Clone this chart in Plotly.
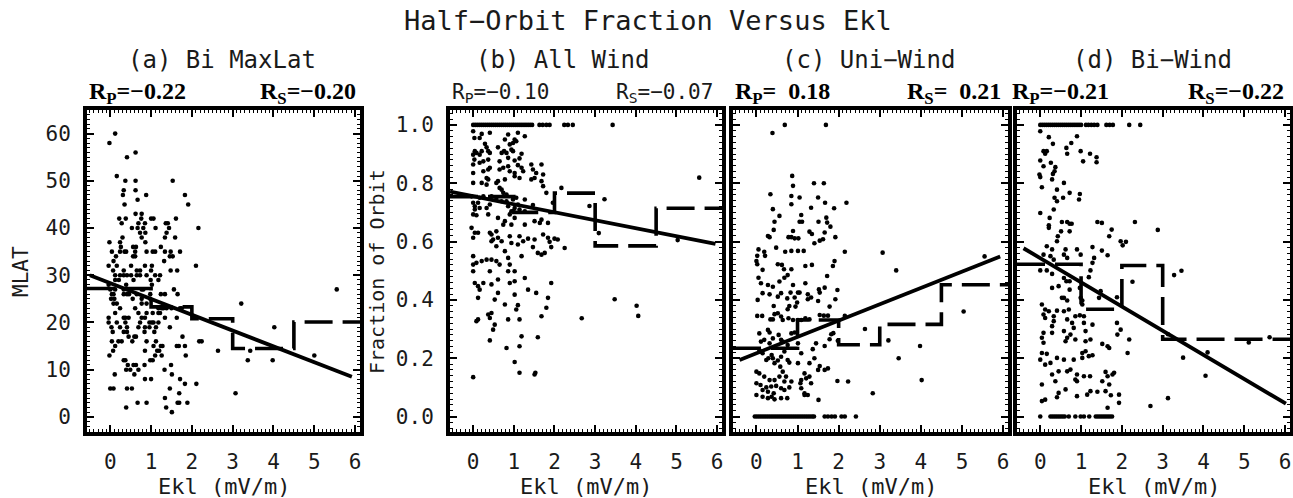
import plotly.graph_objects as go

# ---------------- data ----------------
X_TICKS = [0, 1, 2, 3, 4, 5, 6]
X_RANGE = [-0.57, 6.12]
BIN_EDGES = [-0.57, 1.0, 2.0, 3.0, 4.5, 6.12]

A_BIN_MEANS = [27.2, 23.3, 20.8, 14.5, 20.1]
B_BIN_MEANS = [0.754, 0.700, 0.766, 0.585, 0.714]
C_BIN_MEANS = [0.234, 0.331, 0.246, 0.316, 0.452]
D_BIN_MEANS = [0.522, 0.368, 0.518, 0.265, 0.265]

A_FIT_X, A_FIT_Y = [-0.50, 5.92], [30.0, 8.5]
B_FIT_X, B_FIT_Y = [-0.57, 5.96], [0.771, 0.592]
C_FIT_X, C_FIT_Y = [-0.41, 5.93], [0.194, 0.549]
D_FIT_X, D_FIT_Y = [-0.41, 6.02], [0.577, 0.044]

TITLES = ["(a) Bi MaxLat", "(b) All Wind", "(c) Uni\u2212Wind", "(d) Bi\u2212Wind"]
RP_TEXT = ["\u22120.22", "\u22120.10", "\u00a0\u00a00.18", "\u22120.21"]
RS_TEXT = ["\u22120.20", "\u22120.07", "\u00a0\u00a00.21", "\u22120.22"]

# panel (a): MLAT rows -> Ekl values
A_ROWS = [
    (60, [0.12]), (58, [-0.02]), (56, [0.62]), (55, [0.41]), (51, [0.16]),
    (50, [0.37, 0.62, 1.53]), (48, [0.33, 0.62]), (47, [0.31, 0.88, 1.83]),
    (46, [0.67]), (45, [0.35, 1.91]), (43, [0.62, 0.77]),
    (42, [0.22, 0.38, 0.76, 1.0, 1.06, 1.61]),
    (41, [0.28, 0.69, 0.85, 1.36, 1.41]),
    (40, [0.53, 0.67, 0.81, 1.11, 1.44, 2.16]),
    (39, [0.73, 0.86, 1.38]), (38, [0.30, 0.77, 1.34, 1.59]),
    (37, [-0.02, 0.24, 0.86]), (36, [0.26, 0.56, 0.63, 1.24]),
    (35, [0.04, 0.24, 0.35, 0.39, 0.61, 0.89, 1.04, 1.10, 1.34, 1.48, 1.71]),
    (34, [0.14, 0.56, 0.61, 1.46, 1.53]), (33, [0.08, 1.32]),
    (32, [-0.04, 0.16, 0.51, 0.85, 1.02, 2.10]),
    (31, [0.07, 0.33, 0.65, 0.73, 1.0, 1.48, 1.64]),
    (30, [0.12, 0.24, 0.33, 0.41, 0.51, 0.65, 0.73, 0.89, 1.10, 1.22]),
    (29, [0.12, 0.21, 0.57, 0.99, 1.18]), (28, [-0.04, 0.39, 1.02]),
    (27, [0.0, 0.12, 0.33, 0.77, 0.81, 1.56, 5.55]),
    (26, [0.04, 0.08, 0.33, 0.41, 0.46, 0.65, 0.98, 1.24, 1.34, 1.65]),
    (25, [0.02, 0.10, 0.55, 0.77, 0.98]),
    (24, [0.08, 0.16, 0.77, 0.89, 3.21]),
    (23, [0.24, 0.61, 1.18, 1.26, 1.30, 1.38, 1.50, 1.71, 1.75]),
    (22, [0.12, 0.69, 0.89, 1.04, 1.18, 1.22]),
    (21, [-0.04, 0.33, 0.37, 0.45, 0.77, 0.85, 1.34, 1.63]),
    (20, [-0.04, 0.16, 0.37, 0.73, 0.96, 1.02, 1.06, 1.18]),
    (19, [0.03, 0.24, 0.41, 0.69, 0.85, 0.96, 1.12, 1.46, 4.02]),
    (18, [0.06, 0.33, 0.41, 0.84, 1.08]),
    (17, [0.45, 0.59, 0.63, 1.77]),
    (16, [0.04, 0.20, 0.28, 0.54, 0.89, 1.12, 2.18, 2.24]),
    (15, [0.12, 1.06, 1.24, 1.28, 1.63, 1.68, 1.83]),
    (14, [0.07, 0.85, 1.15, 1.20, 2.64, 3.43]),
    (13, [-0.02, 1.10, 1.26, 1.85, 5.0]),
    (12, [0.33, 0.37, 0.98, 1.04, 3.37, 3.98]),
    (11, [0.43, 0.57, 0.63, 0.84, 1.49]),
    (10, [0.39, 0.49, 0.69, 1.33]), (9, [0.11, 0.59, 1.51]),
    (8, [0.85, 1.0, 1.71]), (7, [1.83, 2.11]),
    (6, [0.0, 0.08, 0.41, 0.53, 1.46]), (5, [1.69, 3.07]), (4, [1.34]),
    (3, [0.67, 0.89, 1.65, 1.69, 1.89]), (2, [0.39, 1.37]), (1, [1.51]),
]

# panel (b): (Ekl, fraction)
B_TOP_ROW_X = [0.0, 0.05, 0.10, 0.15, 0.20, 0.25, 0.30, 0.35, 0.40, 0.45, 0.50,
               0.55, 0.60, 0.65, 0.70, 0.75, 0.80, 0.85, 0.90, 0.95, 1.00, 1.05,
               1.10, 1.15, 1.20, 1.25, 1.30, 1.35, 1.40, 1.45, 1.63, 1.71, 1.80,
               1.88, 2.24, 2.33, 2.45, 3.43]
B_PTS = [
    (0.0, 0.978), (0.21, 0.969), (0.41, 0.973), (0.86, 0.967), (1.10, 0.973),
    (0.03, 0.955), (0.16, 0.955), (0.78, 0.950), (1.02, 0.950), (1.27, 0.961),
    (0.29, 0.935), (0.33, 0.923), (0.61, 0.923), (0.76, 0.910), (0.90, 0.933),
    (0.98, 0.938), (1.06, 0.944), (0.94, 0.915), (0.04, 0.910), (0.21, 0.910),
    (0.37, 0.910), (0.0, 0.898), (0.08, 0.904), (0.16, 0.898), (0.41, 0.904),
    (0.70, 0.904), (0.82, 0.904), (0.98, 0.910), (1.19, 0.901), (0.03, 0.881),
    (0.25, 0.875), (0.37, 0.881), (0.65, 0.875), (1.02, 0.878), (1.14, 0.885),
    (0.86, 0.887), (0.0, 0.864), (0.16, 0.870), (0.41, 0.853), (0.74, 0.853),
    (0.86, 0.858), (1.10, 0.862), (1.19, 0.853), (1.43, 0.864), (1.68, 0.864),
    (0.0, 0.835), (0.25, 0.841), (0.37, 0.847), (0.65, 0.847), (0.90, 0.841),
    (1.02, 0.835), (1.23, 0.841), (1.47, 0.847), (1.55, 0.835), (1.72, 0.830),
    (0.33, 0.818), (0.37, 0.813), (0.61, 0.807), (1.02, 0.824), (1.14, 0.818),
    (1.68, 0.807), (1.72, 0.790), (0.0, 0.801), (0.21, 0.801), (0.57, 0.801),
    (0.78, 0.813), (1.43, 0.813), (1.51, 0.818), (0.33, 0.795), (0.65, 0.784),
    (1.80, 0.767), (0.70, 0.778), (2.17, 0.784), (0.45, 0.755), (0.74, 0.767),
    (0.82, 0.761), (-0.04, 0.755), (0.16, 0.750), (0.25, 0.755), (0.57, 0.750),
    (0.98, 0.744), (1.06, 0.750), (1.10, 0.727), (0.70, 0.738), (0.82, 0.738),
    (1.27, 0.744), (1.47, 0.725), (1.96, 0.733), (0.0, 0.733), (0.12, 0.733),
    (0.04, 0.721), (0.16, 0.715), (0.33, 0.715), (0.41, 0.727), (0.04, 0.710),
    (0.86, 0.721), (1.02, 0.715), (0.94, 0.704), (1.14, 0.710), (1.27, 0.704),
    (0.0, 0.693), (0.08, 0.690), (0.37, 0.693), (0.61, 0.681), (0.78, 0.670),
    (0.90, 0.693), (1.02, 0.681), (1.68, 0.675), (1.51, 0.670), (1.64, 0.664),
    (1.84, 0.664), (1.27, 0.658), (0.74, 0.658), (0.94, 0.658), (-0.04, 0.647),
    (0.04, 0.630), (0.12, 0.630), (0.41, 0.630), (0.45, 0.624), (0.57, 0.635),
    (0.61, 0.613), (0.90, 0.618), (1.14, 0.618), (0.0, 0.613), (2.00, 0.610),
    (0.49, 0.607), (0.45, 0.601), (0.70, 0.601), (0.94, 0.595), (1.10, 0.590),
    (1.23, 0.601), (1.35, 0.610), (1.51, 0.607), (1.72, 0.624), (1.84, 0.613),
    (1.88, 0.599), (2.08, 0.607), (0.57, 0.584), (0.78, 0.567), (1.47, 0.581),
    (1.59, 0.561), (1.68, 0.555), (1.76, 0.561), (1.92, 0.581), (2.25, 0.578),
    (0.0, 0.550), (0.08, 0.527), (0.21, 0.533), (0.33, 0.538), (0.45, 0.538),
    (0.57, 0.533), (0.65, 0.521), (0.0, 0.521), (0.0, 0.498), (0.41, 0.498),
    (0.86, 0.544), (0.90, 0.521), (0.86, 0.498), (1.02, 0.498), (1.19, 0.550),
    (0.04, 0.458), (0.12, 0.447), (0.16, 0.435), (0.25, 0.458), (0.45, 0.453),
    (0.61, 0.470), (0.90, 0.458), (1.02, 0.464), (1.27, 0.475), (1.92, 0.458),
    (0.12, 0.407), (0.53, 0.401), (0.61, 0.424), (1.02, 0.418), (1.35, 0.435),
    (1.55, 0.424), (1.84, 0.407), (0.78, 0.384), (1.10, 0.382), (1.06, 0.367),
    (1.80, 0.373), (1.68, 0.344), (0.12, 0.333), (0.08, 0.327), (0.37, 0.350),
    (0.45, 0.355), (0.41, 0.338), (0.53, 0.315), (0.86, 0.333), (1.14, 0.333),
    (0.49, 0.298), (0.41, 0.261), (1.19, 0.275), (1.59, 0.272), (0.82, 0.235),
    (1.14, 0.241), (1.02, 0.187), (1.51, 0.144), (1.14, 0.150), (1.53, 0.150),
    (0.0, 0.135), (2.86, 0.722), (3.23, 0.745), (3.09, 0.629), (2.67, 0.337),
    (3.48, 0.402), (4.02, 0.380), (4.06, 0.345), (5.03, 0.605), (5.56, 0.819),
]

# panel (c)
C_ZERO_ROW_X = [-0.04, 0.01, 0.06, 0.11, 0.16, 0.21, 0.26, 0.31, 0.36, 0.41,
                0.46, 0.51, 0.56, 0.61, 0.66, 0.71, 0.76, 0.81, 0.86, 0.91,
                0.96, 1.01, 1.06, 1.11, 1.16, 1.21, 1.26, 1.31, 1.36, 1.40,
                1.66, 1.74, 1.83, 1.91, 2.07, 2.15, 2.42]
C_PTS = [
    (0.69, 1.0), (1.69, 1.0), (0.39, 0.972),
    (0.87, 0.825), (0.89, 0.791), (1.40, 0.800), (1.64, 0.800), (0.34, 0.762),
    (0.85, 0.756), (1.05, 0.751), (1.50, 0.751), (2.19, 0.733), (1.67, 0.733),
    (0.40, 0.711), (0.85, 0.728), (1.33, 0.716), (1.89, 0.714), (0.56, 0.688),
    (0.44, 0.668), (1.09, 0.691), (1.05, 0.668), (1.11, 0.668), (1.51, 0.668),
    (1.70, 0.682), (1.72, 0.665), (1.80, 0.651), (0.42, 0.640), (0.89, 0.636),
    (0.85, 0.615), (1.29, 0.634), (1.35, 0.626), (1.02, 0.611), (0.93, 0.611),
    (0.78, 0.615), (0.28, 0.619), (0.32, 0.615), (1.66, 0.631), (1.54, 0.603),
    (1.62, 0.608), (1.92, 0.615), (1.41, 0.594), (0.05, 0.573), (0.19, 0.565),
    (0.48, 0.579), (0.70, 0.565), (0.85, 0.568), (1.01, 0.568), (1.15, 0.568),
    (2.15, 0.565), (0.02, 0.551), (0.21, 0.551), (0.0, 0.533), (1.90, 0.533),
    (0.02, 0.522), (0.52, 0.522), (0.62, 0.520), (0.15, 0.503), (0.67, 0.505),
    (0.85, 0.505), (1.19, 0.516), (1.35, 0.520), (1.86, 0.516), (0.76, 0.485),
    (1.72, 0.482), (0.05, 0.476), (0.56, 0.463), (0.11, 0.457), (0.28, 0.451),
    (0.68, 0.476), (0.40, 0.445), (0.89, 0.451), (1.01, 0.425), (1.19, 0.457),
    (1.52, 0.436), (1.66, 0.442), (1.97, 0.434), (0.15, 0.423), (0.32, 0.419),
    (0.60, 0.423), (0.83, 0.425), (1.05, 0.425), (1.25, 0.419), (1.33, 0.408),
    (1.54, 0.425), (0.03, 0.400), (0.52, 0.411), (0.75, 0.405), (0.93, 0.408),
    (1.25, 0.402), (1.50, 0.396), (1.92, 0.402), (0.42, 0.379), (0.80, 0.379),
    (0.99, 0.391), (0.95, 0.377), (0.76, 0.368), (1.78, 0.377), (0.52, 0.354),
    (0.44, 0.351), (0.60, 0.343), (0.02, 0.345), (0.14, 0.345), (0.34, 0.333),
    (0.40, 0.333), (0.64, 0.331), (0.78, 0.337), (0.89, 0.331), (1.01, 0.331),
    (1.09, 0.331), (1.19, 0.337), (1.29, 0.333), (1.54, 0.348), (1.64, 0.346),
    (1.74, 0.346), (2.15, 0.345), (0.07, 0.285), (0.28, 0.297), (0.32, 0.288),
    (0.54, 0.280), (0.85, 0.285), (0.93, 0.288), (1.45, 0.251), (1.66, 0.242),
    (1.82, 0.282), (0.11, 0.257), (0.19, 0.263), (0.40, 0.268), (0.32, 0.251),
    (0.60, 0.263), (0.64, 0.257), (0.76, 0.245), (0.07, 0.228), (0.11, 0.223),
    (0.15, 0.217), (0.37, 0.211), (0.68, 0.223), (1.01, 0.251), (1.09, 0.217),
    (1.37, 0.231), (1.78, 0.265), (1.98, 0.260), (0.24, 0.194), (0.29, 0.200),
    (0.40, 0.200), (0.52, 0.192), (0.60, 0.205), (0.76, 0.194), (1.01, 0.183),
    (1.29, 0.183), (1.41, 0.200), (1.54, 0.173), (1.66, 0.160), (1.74, 0.165),
    (0.44, 0.183), (0.58, 0.171), (0.64, 0.154), (0.80, 0.185), (1.50, 0.160),
    (0.0, 0.154), (0.07, 0.148), (0.19, 0.137), (0.32, 0.125), (0.44, 0.125),
    (0.56, 0.137), (0.68, 0.120), (0.72, 0.137), (0.85, 0.120), (1.07, 0.114),
    (1.09, 0.125), (1.21, 0.131), (1.29, 0.137), (1.17, 0.148), (1.33, 0.114),
    (1.97, 0.122), (2.23, 0.120), (0.0, 0.114), (0.10, 0.108), (0.24, 0.100),
    (0.36, 0.103), (0.48, 0.105), (0.60, 0.097), (0.15, 0.091), (0.28, 0.085),
    (0.42, 0.080), (0.68, 0.091), (0.80, 0.100), (1.09, 0.097), (1.17, 0.080),
    (0.0, 0.074), (0.15, 0.068), (0.28, 0.063), (0.37, 0.068), (0.44, 0.059),
    (0.60, 0.063), (0.75, 0.063), (1.17, 0.074), (1.25, 0.074), (1.51, 0.057),
    (3.07, 0.562), (3.40, 0.501), (2.64, 0.300), (3.21, 0.261), (3.46, 0.200),
    (3.98, 0.242), (4.02, 0.125), (2.83, 0.080), (5.04, 0.360), (5.55, 0.549),
    (1.87, 0.286),
]

# panel (d)
D_TOP_ROW_X = [0.0, 0.05, 0.10, 0.15, 0.20, 0.25, 0.30, 0.35, 0.40, 0.45, 0.50,
               0.55, 0.60, 0.65, 0.70, 0.75, 0.80, 0.85, 0.90, 0.95, 1.00, 1.12,
               1.18, 1.25, 1.32, 1.40, 1.62, 1.70, 1.78, 2.18, 2.45]
D_ZERO_ROW_X = [0.0, 0.25, 0.30, 0.35, 0.40, 0.45, 0.50, 0.55, 0.60, 0.70, 0.86,
                0.99, 1.07, 1.20, 1.36, 1.41, 1.46, 1.51, 1.56, 1.61, 1.66, 1.71,
                1.76]
D_PTS = [
    (0.0, 0.978), (0.21, 0.958), (0.31, 0.935), (0.90, 0.961), (0.76, 0.938),
    (0.64, 0.921), (0.08, 0.910), (0.16, 0.910), (0.12, 0.901), (0.66, 0.901),
    (0.99, 0.910), (1.22, 0.901), (1.05, 0.875), (1.38, 0.889), (1.38, 0.872),
    (0.0, 0.878), (0.08, 0.858), (0.26, 0.870), (0.37, 0.855), (0.31, 0.832),
    (0.35, 0.841), (-0.02, 0.830), (0.0, 0.821), (0.29, 0.813), (0.58, 0.801),
    (0.41, 0.778), (0.72, 0.767), (0.97, 0.763), (0.04, 0.786), (0.35, 0.750),
    (0.41, 0.738), (0.56, 0.750), (0.95, 0.744), (0.33, 0.710), (0.0, 0.698),
    (0.23, 0.681), (0.53, 0.667), (0.66, 0.667), (0.72, 0.661), (0.77, 0.661),
    (1.40, 0.667), (1.51, 0.664), (2.32, 0.667), (0.21, 0.656), (0.21, 0.647),
    (0.51, 0.635), (0.43, 0.618), (0.72, 0.635), (1.75, 0.641), (1.69, 0.618),
    (1.97, 0.601), (2.10, 0.599), (2.02, 0.587), (0.41, 0.601), (0.16, 0.584),
    (0.29, 0.573), (0.62, 0.573), (0.90, 0.573), (1.28, 0.581), (1.51, 0.569),
    (1.65, 0.553), (0.08, 0.555), (0.25, 0.550), (0.33, 0.538), (0.58, 0.555),
    (0.66, 0.544), (0.99, 0.555), (1.32, 0.544), (1.28, 0.527), (0.0, 0.501),
    (0.16, 0.501), (0.29, 0.489), (0.58, 0.475), (0.64, 0.464), (0.72, 0.464),
    (1.23, 0.501), (1.19, 0.478), (0.29, 0.441), (0.45, 0.447), (0.72, 0.435),
    (0.97, 0.441), (1.48, 0.430), (2.26, 0.462), (0.53, 0.407), (0.58, 0.407),
    (0.66, 0.398), (0.99, 0.407), (1.03, 0.398), (1.44, 0.407), (1.03, 0.384),
    (1.88, 0.409), (0.04, 0.384), (0.12, 0.367), (0.08, 0.350), (0.21, 0.361),
    (0.12, 0.338), (0.41, 0.363), (0.33, 0.344), (0.58, 0.361), (0.70, 0.367),
    (0.86, 0.344), (0.97, 0.347), (1.07, 0.344), (0.33, 0.327), (0.29, 0.310),
    (0.66, 0.333), (0.78, 0.321), (0.82, 0.304), (1.07, 0.321), (1.28, 0.315),
    (0.08, 0.287), (0.04, 0.270), (0.08, 0.253), (0.29, 0.287), (0.58, 0.293),
    (0.62, 0.258), (0.66, 0.270), (0.74, 0.281), (0.86, 0.264), (1.11, 0.293),
    (1.11, 0.258), (1.23, 0.264), (1.52, 0.249), (1.65, 0.241), (1.69, 0.235),
    (1.88, 0.321), (1.97, 0.298), (1.89, 0.281), (2.18, 0.264), (2.14, 0.218),
    (0.04, 0.218), (0.16, 0.215), (0.0, 0.195), (0.12, 0.178), (0.25, 0.184),
    (0.41, 0.201), (0.58, 0.195), (0.82, 0.195), (1.03, 0.218), (1.03, 0.201),
    (1.11, 0.224), (1.19, 0.207), (1.28, 0.210), (0.29, 0.144), (0.45, 0.155),
    (0.66, 0.155), (0.74, 0.161), (0.90, 0.144), (0.86, 0.127), (1.07, 0.138),
    (1.22, 0.138), (1.60, 0.153), (1.65, 0.138), (1.77, 0.144), (1.81, 0.150),
    (0.04, 0.110), (0.37, 0.121), (0.90, 0.121), (1.52, 0.121), (1.69, 0.110),
    (0.62, 0.093), (1.23, 0.087), (1.40, 0.085), (1.60, 0.087), (1.73, 0.073),
    (1.15, 0.075), (0.04, 0.053), (0.12, 0.058), (0.45, 0.081), (0.41, 0.066),
    (0.90, 0.070), (1.93, 0.075), (1.93, 0.047), (1.65, 0.030),
    (2.88, 0.640), (3.28, 0.485), (3.46, 0.500), (3.13, 0.282), (3.50, 0.202),
    (4.10, 0.220), (4.05, 0.140), (3.13, 0.063), (2.70, 0.036), (5.11, 0.254),
    (5.62, 0.272),
]

# ---------------- assemble ----------------
a_x = [x for y, xs in A_ROWS for x in xs]
a_y = [y for y, xs in A_ROWS for x in xs]
b_x = B_TOP_ROW_X + [p[0] for p in B_PTS]
b_y = [1.0] * len(B_TOP_ROW_X) + [p[1] for p in B_PTS]
c_x = C_ZERO_ROW_X + [p[0] for p in C_PTS]
c_y = [0.0] * len(C_ZERO_ROW_X) + [p[1] for p in C_PTS]
d_x = D_TOP_ROW_X + D_ZERO_ROW_X + [p[0] for p in D_PTS]
d_y = [1.0] * len(D_TOP_ROW_X) + [0.0] * len(D_ZERO_ROW_X) + [p[1] for p in D_PTS]

W, H = 1293, 498
def px(v):
    return v / W
def py(v):
    return 1 - v / H

PANEL_X = [(87, 360), (450, 722), (733, 1008), (1017, 1290)]
PANEL_Y = (110, 432)

panels = [
    dict(x=a_x, y=a_y, means=A_BIN_MEANS, fx=A_FIT_X, fy=A_FIT_Y,
         yr=[-3.2, 65], yt=[0, 10, 20, 30, 40, 50, 60], ylab=True, fmt="d", minor=1),
    dict(x=b_x, y=b_y, means=B_BIN_MEANS, fx=B_FIT_X, fy=B_FIT_Y,
         yr=[-0.053, 1.051], yt=[0, 0.2, 0.4, 0.6, 0.8, 1.0], ylab=True, fmt=".1f", minor=0.02),
    dict(x=c_x, y=c_y, means=C_BIN_MEANS, fx=C_FIT_X, fy=C_FIT_Y,
         yr=[-0.053, 1.051], yt=[0, 0.2, 0.4, 0.6, 0.8, 1.0], ylab=False, fmt=".1f", minor=0.02),
    dict(x=d_x, y=d_y, means=D_BIN_MEANS, fx=D_FIT_X, fy=D_FIT_Y,
         yr=[-0.053, 1.051], yt=[0, 0.2, 0.4, 0.6, 0.8, 1.0], ylab=False, fmt=".1f", minor=0.02),
]

SANS = "DejaVu Sans Mono"
SERIF = "Liberation Serif"
INK = "#1a1a1a"

fig = go.Figure()
layout = {}
for i, p in enumerate(panels):
    n = "" if i == 0 else str(i + 1)
    xa, ya = "x" + n, "y" + n
    fig.add_trace(go.Scatter(x=p["x"], y=p["y"], mode="markers", xaxis=xa, yaxis=ya,
                             marker=dict(size=4.6, color="black"), showlegend=False))
    fig.add_trace(go.Scatter(x=BIN_EDGES, y=p["means"] + [p["means"][-1]], mode="lines",
                             xaxis=xa, yaxis=ya, showlegend=False,
                             line=dict(shape="hv", color="black", width=3.6, dash="28px,10px")))
    fig.add_trace(go.Scatter(x=p["fx"], y=p["fy"], mode="lines", xaxis=xa, yaxis=ya,
                             showlegend=False, line=dict(color="black", width=3.8)))
    x0, x1 = PANEL_X[i]
    layout["xaxis" + n] = dict(
        domain=[px(x0), px(x1)], range=X_RANGE, anchor=ya, tickvals=X_TICKS,
        ticks="inside", ticklen=7, tickwidth=2, tickcolor="black",
        showline=True, linewidth=4, linecolor="black", mirror="allticks",
        showgrid=False, zeroline=False, ticklabelstandoff=8,
        tickfont=dict(family=SANS, size=21, color=INK),
        minor=dict(ticks="inside", ticklen=3, tickwidth=1, dtick=0.1, tickcolor="black", showgrid=False),
    )
    layout["yaxis" + n] = dict(
        domain=[py(PANEL_Y[1]), py(PANEL_Y[0])], range=p["yr"], anchor=xa,
        tickvals=p["yt"], tickformat=p["fmt"], showticklabels=p["ylab"],
        ticks="inside", ticklen=7, tickwidth=2, tickcolor="black",
        showline=True, linewidth=4, linecolor="black", mirror="allticks",
        showgrid=False, zeroline=False, ticklabelstandoff=8,
        tickfont=dict(family=SANS, size=21, color=INK),
        minor=dict(ticks="inside", ticklen=3, tickwidth=1, dtick=p["minor"], tickcolor="black", showgrid=False),
    )

ann = []
ann.append(dict(text="Half\u2212Orbit Fraction Versus Ekl", x=px(648), y=py(21),
                font=dict(family=SANS, size=27, color=INK)))
TITLE_CX = [222, 562, 868, 1152]
for i, t in enumerate(TITLES):
    ann.append(dict(text=t, x=px(TITLE_CX[i]), y=py(60), font=dict(family=SANS, size=24, color=INK)))
    x0, x1 = PANEL_X[i]
    ann.append(dict(text="Ekl (mV/m)", x=px((x0 + x1) / 2), y=py(486),
                    font=dict(family=SANS, size=22, color=INK)))
RP_LEFT = [87, 450, 733, 1010]
RS_RIGHT = [358, 715, 1003, 1286]
for i in range(4):
    if i == 1:
        f = dict(family=SANS, size=21, color=INK)
    else:
        f = dict(family=SERIF, size=24, color="black", weight="bold")
    ann.append(dict(text="R<sub>P</sub>=" + RP_TEXT[i], x=px(RP_LEFT[i]), y=py(93),
                    xanchor="left", font=f))
    ann.append(dict(text="R<sub>S</sub>=" + RS_TEXT[i], x=px(RS_RIGHT[i]), y=py(93),
                    xanchor="right", font=f))
ann.append(dict(text="MLAT", x=px(21), y=py(272), textangle=-90,
                font=dict(family=SANS, size=21, color=INK)))
ann.append(dict(text="Fraction of Orbit", x=px(377), y=py(272), textangle=-90,
                font=dict(family=SANS, size=20, color=INK)))
for a in ann:
    a.update(xref="paper", yref="paper", showarrow=False)
    a.setdefault("xanchor", "center")
    a.setdefault("yanchor", "middle")

fig.update_layout(
    width=W, height=H, autosize=False,
    margin=dict(l=0, r=0, t=0, b=0),
    paper_bgcolor="white", plot_bgcolor="white",
    annotations=ann, **layout,
)

fig.write_html("out.html",
               config={"displayModeBar": False},
               post_script="document.body.style.margin='0';document.body.style.padding='0';"
                           "document.body.style.overflow='hidden';")
